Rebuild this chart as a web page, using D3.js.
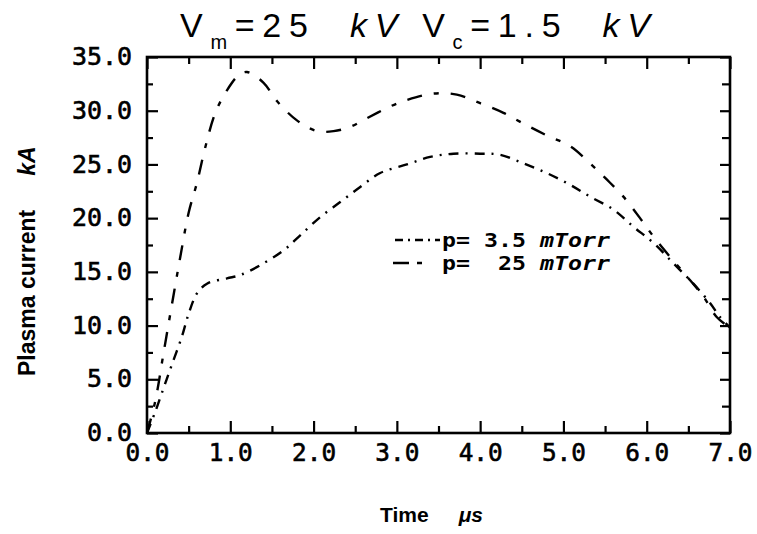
<!DOCTYPE html>
<html>
<head>
<meta charset="utf-8">
<script src="https://cdn.jsdelivr.net/npm/d3@7"></script>
<style>
  html, body { margin: 0; padding: 0; background: #fff; }
  svg { display: block; }
</style>
</head>
<body>
<svg id="chart" width="757" height="534"></svg>
<script>
// ---- data ----
const time25 = [0, 0.1, 0.2, 0.3, 0.4, 0.5, 0.6, 0.7, 0.82, 0.96, 1.1, 1.2, 1.4, 1.56, 1.8, 2.04, 2.24, 2.44, 2.64, 2.92, 3.12, 3.44, 3.72, 4.0, 4.28, 4.52, 4.8, 5.08, 5.32, 5.52, 5.72, 5.92, 6.08, 6.28, 6.48, 6.68, 6.84, 7.0];
const current25 = [0, 3.0, 7.5, 12.0, 16.4, 20.5, 23.3, 26.6, 29.8, 31.9, 33.3, 33.6, 32.6, 30.9, 29.1, 28.1, 28.1, 28.5, 29.3, 30.4, 31.0, 31.6, 31.5, 30.7, 29.8, 28.8, 27.7, 26.7, 25.1, 23.6, 22.0, 20.0, 18.3, 16.4, 14.6, 12.7, 10.8, 9.8];

const time35 = [0, 0.1, 0.2, 0.3, 0.42, 0.5, 0.6, 0.72, 0.96, 1.12, 1.4, 1.64, 1.84, 2.08, 2.32, 2.56, 2.8, 3.12, 3.4, 3.68, 4.0, 4.24, 4.52, 4.8, 5.08, 5.32, 5.6, 5.84, 6.08, 6.32, 6.56, 6.76, 6.88, 7.0];
const current35 = [0, 2.0, 4.2, 6.4, 9.0, 11.1, 13.0, 13.9, 14.4, 14.7, 15.8, 17.0, 18.4, 20.1, 21.5, 22.9, 24.2, 25.0, 25.7, 26.0, 26.0, 25.9, 25.1, 24.2, 23.1, 22.0, 20.8, 19.2, 17.7, 15.8, 13.9, 12.1, 10.8, 9.8];

const seriesLabels = ["p= 3.5 ", "p=  25 "];
const seriesUnit = "mTorr";
const xMajorTicks = [0, 1, 2, 3, 4, 5, 6, 7];
const xMinorTicks = [0.5, 1.5, 2.5, 3.5, 4.5, 5.5, 6.5];
const yMajorTicks = [0, 5, 10, 15, 20, 25, 30, 35];
const yMinorTicks = [2.5, 7.5, 12.5, 17.5, 22.5, 27.5, 32.5];

// ---- layout ----
const svg = d3.select("#chart");
const L = 147, R = 730, T = 57, B = 433;
const x = d3.scaleLinear().domain([0, 7]).range([L, R]);
const y = d3.scaleLinear().domain([0, 35]).range([B, T]);
const fmt = d3.format(".1f");
const tickFont = "'DejaVu Sans Mono', 'Liberation Mono', monospace";

function styleAxis(g) {
  g.select(".domain").remove();
  g.selectAll(".tick line").attr("stroke", "#000").attr("stroke-width", 2.2);
}

// bottom axis (major with labels)
const gB = svg.append("g").attr("transform", `translate(0,${B})`)
  .call(d3.axisBottom(x).tickValues(xMajorTicks).tickSize(-12).tickPadding(11).tickFormat(fmt));
styleAxis(gB);
gB.selectAll("text").attr("font-family", tickFont).attr("font-size", 24)
  .attr("fill", "#000").attr("stroke", "#000").attr("stroke-width", 0.6)
  .attr("textLength", 44).attr("lengthAdjust", "spacingAndGlyphs");
svg.append("g").attr("transform", `translate(0,${B})`)
  .call(d3.axisBottom(x).tickValues(xMinorTicks).tickSize(-7).tickFormat(""))
  .call(styleAxis);
// top axis
svg.append("g").attr("transform", `translate(0,${T})`)
  .call(d3.axisTop(x).tickValues(xMajorTicks).tickSize(-12).tickFormat(""))
  .call(styleAxis);
svg.append("g").attr("transform", `translate(0,${T})`)
  .call(d3.axisTop(x).tickValues(xMinorTicks).tickSize(-7).tickFormat(""))
  .call(styleAxis);
// left axis
const gL = svg.append("g").attr("transform", `translate(${L},0)`)
  .call(d3.axisLeft(y).tickValues(yMajorTicks).tickSize(-11).tickPadding(15).tickFormat(fmt));
styleAxis(gL);
gL.selectAll("text").attr("font-family", tickFont).attr("font-size", 24)
  .attr("fill", "#000").attr("stroke", "#000").attr("stroke-width", 0.6)
  .attr("lengthAdjust", "spacingAndGlyphs")
  .attr("textLength", d => fmt(d).length * 15);
svg.append("g").attr("transform", `translate(${L},0)`)
  .call(d3.axisLeft(y).tickValues(yMinorTicks).tickSize(-6).tickFormat(""))
  .call(styleAxis);
// right axis
svg.append("g").attr("transform", `translate(${R},0)`)
  .call(d3.axisRight(y).tickValues(yMajorTicks).tickSize(-10).tickFormat(""))
  .call(styleAxis);
svg.append("g").attr("transform", `translate(${R},0)`)
  .call(d3.axisRight(y).tickValues(yMinorTicks).tickSize(-8).tickFormat(""))
  .call(styleAxis);

// frame
svg.append("rect").attr("x", L).attr("y", T).attr("width", R - L).attr("height", B - T)
  .attr("fill", "none").attr("stroke", "#000").attr("stroke-width", 2.6);

// ---- curves ----
const line = d3.line().x(d => x(d[0])).y(d => y(d[1])).curve(d3.curveCatmullRom.alpha(0.5));
const dash25 = "15,12,5,12";
const dash35 = "10,7,2,7";
svg.append("path").datum(d3.zip(time25, current25)).attr("d", line)
  .attr("fill", "none").attr("stroke", "#000").attr("stroke-width", 2.4).attr("stroke-dasharray", dash25);
svg.append("path").datum(d3.zip(time35, current35)).attr("d", line)
  .attr("fill", "none").attr("stroke", "#000").attr("stroke-width", 2.4).attr("stroke-dasharray", dash35);

// ---- legend ----
const legendRows = [
  { label: seriesLabels[0], dash: "8,5,2,5", y: 240, x0: 395, x1: 440 },
  { label: seriesLabels[1], dash: "16,8,5,30", y: 263, x0: 393, x1: 440 }
];
legendRows.forEach(r => {
  svg.append("line").attr("x1", r.x0).attr("x2", r.x1).attr("y1", r.y).attr("y2", r.y)
    .attr("stroke", "#000").attr("stroke-width", 2.4).attr("stroke-dasharray", r.dash);
  const t = svg.append("text").attr("x", 442).attr("y", r.y + 7)
    .attr("font-family", "'DejaVu Sans Mono', 'Liberation Mono', monospace").attr("font-size", 20).attr("font-weight", "bold")
    .attr("textLength", 168).attr("lengthAdjust", "spacingAndGlyphs").style("white-space", "pre");
  t.append("tspan").text(r.label);
  t.append("tspan").attr("font-style", "italic").text(seriesUnit);
});

// ---- title ----
const title = svg.append("text").attr("x", 180).attr("y", 37)
  .attr("font-family", "'Liberation Sans', Arial, sans-serif").attr("font-size", 34)
  .attr("textLength", 470).attr("lengthAdjust", "spacing").style("white-space", "pre");
title.append("tspan").text("V");
title.append("tspan").attr("font-size", 20).attr("dy", 12).text("m");
title.append("tspan").attr("dy", -12).text("=25  ");
title.append("tspan").attr("font-style", "italic").text("kV");
title.append("tspan").text(" V");
title.append("tspan").attr("font-size", 20).attr("dy", 12).text("c");
title.append("tspan").attr("dy", -12).text("=1.5  ");
title.append("tspan").attr("font-style", "italic").text("kV");

// ---- axis titles ----
const xt = svg.append("text").attr("x", 380).attr("y", 522)
  .attr("font-family", "'Liberation Sans', Arial, sans-serif").attr("font-size", 21).attr("font-weight", "bold")
  .style("white-space", "pre");
xt.append("tspan").text("Time");
xt.append("tspan").attr("dx", 30).attr("font-style", "italic").text("μs");

const yt = svg.append("text").attr("transform", "translate(35,376) rotate(-90)")
  .attr("font-family", "'Liberation Sans', Arial, sans-serif").attr("font-size", 23).attr("font-weight", "bold");
yt.append("tspan").text("Plasma current");
yt.append("tspan").attr("dx", 34).attr("font-style", "italic").text("kA");
</script>
</body>
</html>
